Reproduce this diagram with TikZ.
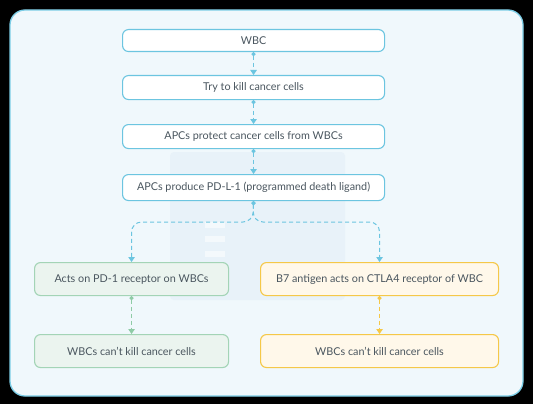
\documentclass[tikz,border=0pt]{standalone}
\usepackage{fontspec}
\setmainfont{Lato}
\usetikzlibrary{arrows.meta}
\definecolor{bgc}{HTML}{F0F8FC}
\definecolor{outer}{HTML}{7CCDE6}
\definecolor{bluec}{HTML}{6CC5E0}
\definecolor{greenb}{HTML}{A3D4B6}
\definecolor{greenf}{HTML}{EBF4EF}
\definecolor{greena}{HTML}{8FCBA6}
\definecolor{yellb}{HTML}{F5C848}
\definecolor{yellf}{HTML}{FFF8EA}
\definecolor{txt}{HTML}{4A565F}
\definecolor{wm}{HTML}{E8F2F9}
\tikzset{
  x=1pt, y=-1pt,
  box/.style={draw, rounded corners=6pt, line width=1.1pt, inner sep=0pt,
    text=txt, font=\fontsize{10.8}{12}\selectfont, anchor=north west},
  bluebox/.style={box, draw=bluec, fill=white},
  greenbox/.style={box, draw=greenb, fill=greenf},
  yellbox/.style={box, draw=yellb, fill=yellf},
  conn/.style={dashed, dash pattern=on 4pt off 3pt, line width=1pt,
    {Circle[length=4pt,sep=0pt]}-{Triangle[length=5pt,width=6.5pt]}},
}
\begin{document}
\begin{tikzpicture}
\useasboundingbox (0,0) rectangle (533,404);
\fill[black] (0,0) rectangle (533,404);
\draw[draw=outer, fill=bgc, line width=1.3pt, rounded corners=15pt] (10,10) rectangle (523,396);
% faint watermark
\fill[wm, rounded corners=4pt] (170,152) rectangle (345,300);
\foreach \yy in {175,222,236,251,266}{\fill[white!50!wm] (205,\yy) rectangle (225,\yy+6);}
\fill[white!50!wm] (270,175) rectangle (315,181);
% nodes
\node[bluebox, minimum width=262pt, minimum height=22pt] (wbc) at (122,29) {WBC};
\node[bluebox, minimum width=262pt, minimum height=24pt] (try) at (122,75) {Try to kill cancer cells};
\node[bluebox, minimum width=262pt, minimum height=24pt] (prot) at (122,124) {APCs protect cancer cells from WBCs};
\node[bluebox, minimum width=262pt, minimum height=26pt] (prod) at (122,174) {APCs produce PD-L-1 (programmed death ligand)};
\node[greenbox, minimum width=194pt, minimum height=33pt] (pd1) at (34,262) {Acts on PD-1 receptor on WBCs};
\node[yellbox, minimum width=238pt, minimum height=33pt] (b7) at (260,262) {B7 antigen acts on CTLA4 receptor of WBC};
\node[greenbox, minimum width=194pt, minimum height=33pt] (kl) at (34,334) {WBCs can't kill cancer cells};
\node[yellbox, minimum width=238pt, minimum height=33pt] (kr) at (260,334) {WBCs can't kill cancer cells};
\coordinate (j) at (253,222);
% connectors
\draw[conn, draw=bluec] (wbc.south) -- (try.north);
\draw[conn, draw=bluec] (try.south) -- (prot.north);
\draw[conn, draw=bluec] (prot.south) -- (prod.north);
\draw[conn, draw=bluec, rounded corners=10pt] (prod.south) -- (j) -| (pd1.north);
\draw[conn, draw=bluec, rounded corners=10pt] (prod.south) -- (j) -| (b7.north);
\draw[conn, draw=greena] (pd1.south) -- (kl.north);
\draw[conn, draw=yellb] (b7.south) -- (kr.north);
\end{tikzpicture}
\end{document}
